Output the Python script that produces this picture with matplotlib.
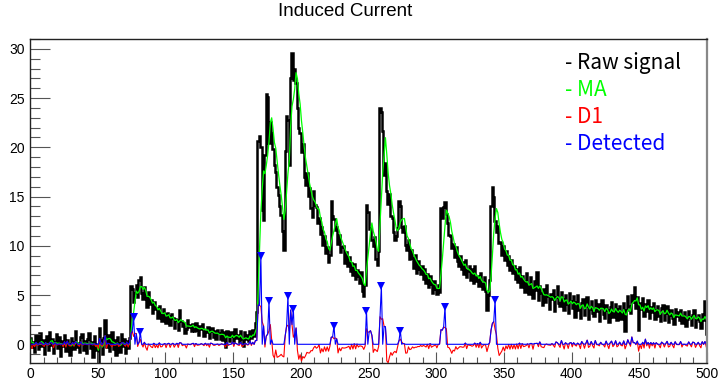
import numpy as np
import matplotlib.pyplot as plt
from matplotlib.ticker import MultipleLocator

# raw signal, one value per bin (500 bins)
raw_signal = [
    0.6, -0.3, 0.2, -0.8, 0.9, 0.1, -0.5, 1.1, -0.2, 0.4, -1.0, 0.3, 0.8, -0.6, 1.2, -0.1, 0.5, -0.9, 0.2, 1.0,
    -0.4, 0.7, -1.2, 0.3, -0.2, 0.9, -0.7, 0.4, 0.0, -1.1, 0.6, 0.2, -0.5, 1.3, -0.3, 0.1, -0.8, 0.7, 1.0, -0.6,
    0.3, -0.9, 0.5, 1.1, -0.4, 0.2, -1.3, 0.8, 0.0, -0.6, -1.9, 1.7, 0.4, -1.0, 0.6, 2.5, -0.3, 0.9, -0.7, 0.2,
    1.2, -0.5, 0.4, -1.1, 0.7, 0.1, -0.8, 1.0, -0.2, 0.5, -0.9, 0.3, -0.4, 0.6, 5.9, 5.6, 4.3, 5.2, 6.0, 4.8,
    6.5, 6.8, 5.2, 4.6, 5.8, 4.9, 3.8, 5.3, 4.1, 4.5, 3.2, 4.3, 3.6, 3.7, 2.7, 3.9, 3.0, 2.4, 3.6, 3.1,
    2.2, 3.2, 2.9, 2.0, 3.1, 2.7, 1.7, 2.6, 2.5, 1.5, 3.5, 2.4, 1.9, 2.2, 1.1, 1.6, 2.5, 1.8, 2.0, 1.3,
    2.1, 1.3, 2.2, 1.5, 0.9, 1.9, 1.6, 2.1, 0.8, 1.4, 1.2, 1.8, 0.6, 1.4, 1.7, 0.7, 1.3, 0.5, 1.5, 1.1,
    0.5, 1.5, 0.4, 1.2, -0.3, 1.4, 0.9, 0.3, 1.2, 0.8, 0.3, 1.6, 0.6, 0.9, 0.2, 1.3, 0.5, -0.2, 1.2, 0.5,
    0.9, 0.3, 1.4, 0.6, 1.5, 0.8, 2.2, 3.3, 20.6, 21.2, 20.0, 13.6, 12.6, 19.2, 25.4, 25.1, 20.4, 22.6, 21.5, 19.8,
    18.2, 17.5, 16.0, 15.2, 14.0, 13.1, 11.5, 9.6, 19.6, 23.2, 22.8, 18.2, 27.0, 29.6, 26.8, 28.0, 26.5, 24.0, 22.0, 21.5,
    19.5, 20.3, 17.0, 16.2, 17.4, 15.1, 15.9, 13.8, 12.9, 15.6, 14.1, 13.9, 12.3, 12.8, 11.2, 11.9, 10.1, 11.0, 9.3, 9.9,
    8.4, 9.1, 14.6, 13.0, 12.7, 11.6, 11.9, 10.2, 11.1, 9.4, 9.9, 10.0, 8.3, 9.4, 8.0, 8.9, 7.4, 8.3, 7.0, 8.2,
    6.6, 7.5, 6.9, 6.2, 7.3, 5.4, 4.9, 6.0, 14.1, 13.4, 11.7, 11.8, 10.6, 10.0, 10.9, 8.7, 8.1, 9.5, 24.0, 23.6,
    21.7, 17.2, 18.4, 15.6, 14.2, 15.3, 13.0, 12.8, 11.4, 10.6, 11.0, 11.8, 14.6, 14.0, 11.9, 11.4, 12.0, 10.1, 9.6, 10.6,
    8.7, 9.6, 8.8, 7.7, 9.1, 7.2, 8.5, 7.6, 7.1, 8.0, 6.6, 7.6, 6.2, 7.1, 5.8, 6.9, 6.1, 5.2, 6.4, 5.6,
    5.1, 6.0, 5.3, 13.8, 12.8, 13.9, 14.4, 13.2, 12.3, 11.1, 11.0, 9.8, 10.2, 8.9, 9.9, 8.5, 8.0, 9.0, 7.6, 8.4,
    7.1, 8.6, 6.8, 7.4, 7.9, 6.5, 7.6, 6.2, 8.0, 6.4, 6.9, 5.9, 7.2, 6.1, 5.6, 6.8, 5.4, 3.5, 5.0, 6.5,
    14.0, 16.0, 15.0, 12.5, 11.4, 12.0, 10.3, 10.4, 9.1, 10.0, 8.6, 9.5, 8.1, 9.0, 7.5, 8.6, 7.2, 7.9, 6.6, 7.6,
    6.3, 7.8, 5.8, 6.9, 6.4, 5.3, 7.2, 6.0, 5.1, 6.8, 5.7, 4.7, 6.4, 5.5, 7.3, 4.5, 5.9, 5.2, 4.0, 5.6,
    4.3, 6.0, 4.9, 3.6, 5.1, 4.6, 5.5, 3.4, 4.8, 5.9, 4.2, 3.9, 5.3, 4.6, 3.5, 5.0, 4.1, 3.2, 5.2, 4.4,
    3.7, 4.9, 2.8, 4.3, 5.0, 3.5, 2.7, 4.2, 4.6, 3.0, 3.9, 4.8, 2.6, 3.6, 4.4, 3.2, 2.9, 4.5, 3.4, 4.1,
    2.4, 3.9, 4.5, 3.1, 2.7, 4.0, 3.5, 2.3, 3.8, 4.3, 2.8, 3.2, 4.1, 2.5, 3.6, 3.9, 2.6, 3.3, 4.2, 1.3,
    3.5, 4.9, 3.9, 3.2, 5.0, 4.3, 5.8, 3.7, 4.8, 1.5, 4.2, 3.6, 4.7, 2.9, 4.1, 3.4, 4.5, 2.7, 3.8, 3.3,
    4.2, 2.6, 3.5, 3.9, 2.9, 2.4, 3.7, 4.0, 2.5, 3.2, 3.9, 2.3, 3.0, 3.5, 2.7, 2.1, 3.6, 2.9, 3.3, 2.5,
    3.5, 2.2, 2.9, 3.3, 1.9, 2.6, 3.4, 2.8, 2.0, 3.0, 3.5, 1.8, 2.6, 3.0, 2.4, 1.7, 3.1, 2.5, 4.4, 1.0,
]

# detected peaks: bin and height of the blue marker
det_bin = [76, 81, 170, 176, 190, 194, 224, 248, 259, 273, 306, 343]
det_val = [2.8, 1.2, 9.0, 4.4, 4.9, 3.6, 1.9, 3.4, 5.9, 1.4, 3.8, 4.5]

legend_labels = ["Raw signal", "MA", "D1", "Detected"]
legend_colors = ["#000000", "#00ff00", "#ff0000", "#0000ff"]

raw = np.array(raw_signal)
nb = len(raw)
edges = np.arange(nb + 1)
xc = np.arange(nb) + 0.5

# moving average (5 bins, trailing) and its first difference
win = 5
ma = np.array([raw[max(0, i - win + 1):i + 1].mean() for i in range(nb)])
d1 = np.diff(ma, prepend=ma[0])
det = np.maximum(d1, 0)
for b, v in zip(det_bin, det_val):
    det[b] = v
    det[b + 1] = 0

fig = plt.figure(figsize=(7.19, 3.8), dpi=100)
ax = fig.add_axes([30/719, 17/380, 677/719, 324/380])

ax.stairs(raw, edges, color='black', lw=1.8, baseline=None)
ax.plot(xc, ma, color='#00ff00', lw=0.9)
ax.plot(xc, d1, color='#ff0000', lw=0.8)
ax.plot(xc, det, color='#0000ff', lw=0.8)
ax.plot(np.array(det_bin) + 0.5, det_val, 'v', color='#0000ff', ms=6, mew=0)

ax.set_xlim(0, 500)
ax.set_ylim(-1.9, 31.0)
ax.xaxis.set_major_locator(MultipleLocator(50))
ax.xaxis.set_minor_locator(MultipleLocator(10))
ax.yaxis.set_major_locator(MultipleLocator(5))
ax.yaxis.set_minor_locator(MultipleLocator(1))
ax.tick_params(which='both', direction='in', top=False, right=False, width=0.8, colors='#555555',
               labelcolor='black')
ax.tick_params(axis='y', which='major', length=14.4, pad=4)
ax.tick_params(axis='y', which='minor', length=7.2)
ax.tick_params(axis='x', which='major', length=8, pad=3)
ax.tick_params(axis='x', which='minor', length=4)
for lab in ax.get_xticklabels() + ax.get_yticklabels():
    lab.set_fontfamily('Liberation Sans')
    lab.set_fontsize(10)
for s in ['left', 'bottom', 'top']:
    ax.spines[s].set_color('#222222')
    ax.spines[s].set_linewidth(1.0)
ax.spines['right'].set_color('#888888')
ax.spines['right'].set_linewidth(1.6)

fig.text(345/719, 1 - 12/380, "Induced Current", ha='center', va='center',
         fontsize=13.5, family='Liberation Sans')

rows = [63, 90.5, 117, 143.5]
for lab, col, yy in zip(legend_labels, legend_colors, rows):
    fig.text(565/719, 1 - yy/380, "- " + lab, ha='left', va='center', color=col,
             fontsize=15, family=['Noto Sans CJK SC', 'DejaVu Sans'])

fig.savefig('out.png', dpi=100)
